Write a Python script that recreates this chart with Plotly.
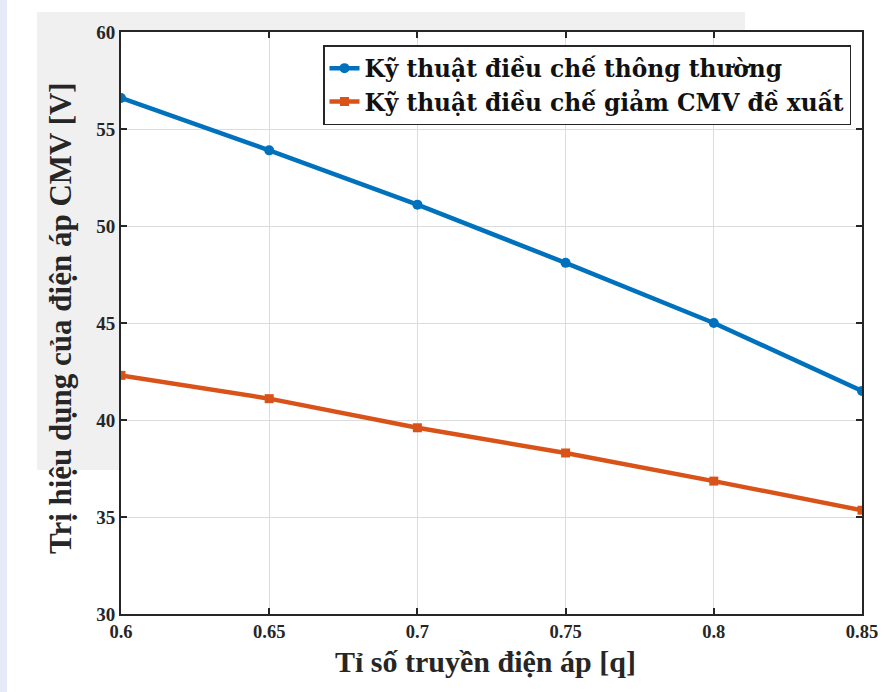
import plotly.graph_objects as go

q = [0.6, 0.65, 0.7, 0.75, 0.8, 0.85]
conventional = [56.6, 53.9, 51.1, 48.1, 45.0, 41.5]
proposed = [42.3, 41.1, 39.6, 38.3, 36.85, 35.35]
x_ticks = [0.6, 0.65, 0.7, 0.75, 0.8, 0.85]
x_ticktext = ["0.6", "0.65", "0.7", "0.75", "0.8", "0.85"]
y_ticks = [30, 35, 40, 45, 50, 55, 60]
name_conv = "Kỹ thuật điều chế thông thường"
name_prop = "Kỹ thuật điều chế giảm CMV đề xuất"
x_title = "Tỉ số truyền điện áp [q]"
y_title = "Trị hiệu dụng của điện áp CMV [V]"

FONT = "Liberation Serif"
LEG_FONT = "DejaVu Serif"
INK = "#262626"

fig = go.Figure()
fig.add_trace(go.Scatter(x=q, y=conventional, name=name_conv, mode="lines+markers",
                         line=dict(color="#0072BD", width=4.5),
                         marker=dict(symbol="circle", size=10, color="#0072BD")))
fig.add_trace(go.Scatter(x=q, y=proposed, name=name_prop, mode="lines+markers",
                         line=dict(color="#D95319", width=4.5),
                         marker=dict(symbol="square", size=9, color="#D95319")))

W, H = 885, 692
PL, PR, PT, PB = 121, 862, 32, 614  # plot area in pixels
L, R, T, B = PL, W - PR, PT, H - PB
pw, ph = W - L - R, H - T - B

def px(x):
    return (x - L) / pw

def py(y):
    return (H - B - y) / ph

shapes = [
    dict(type="rect", xref="paper", yref="paper", x0=px(0), x1=px(7), y0=py(H), y1=py(0),
         fillcolor="#e6eaf6", line=dict(width=0), layer="below"),
    dict(type="rect", xref="paper", yref="paper", x0=px(37), x1=px(745), y0=py(470), y1=py(12),
         fillcolor="#f0f0f0", line=dict(width=0), layer="below"),
    dict(type="rect", xref="paper", yref="paper", x0=0, x1=1, y0=0, y1=1,
         fillcolor="white", line=dict(width=0), layer="below"),
]

annotations = [
    dict(text=x_title, xref="paper", yref="paper", x=px(485), y=py(661),
         xanchor="center", yanchor="middle", showarrow=False,
         font=dict(family=FONT, size=30, weight="bold", color=INK)),
    dict(text=y_title, xref="paper", yref="paper", x=px(60), y=py(318),
         xanchor="center", yanchor="middle", showarrow=False, textangle=-90,
         font=dict(family=FONT, size=31, weight="bold", color=INK)),
]

fig.update_layout(
    width=W, height=H,
    margin=dict(l=L, r=R, t=T, b=B),
    paper_bgcolor="white", plot_bgcolor="white",
    shapes=shapes, annotations=annotations,
    font=dict(family=FONT, color=INK),
    showlegend=True,
    legend=dict(x=px(323), y=py(45), xanchor="left", yanchor="top",
                bgcolor="white", bordercolor=INK, borderwidth=1.5,
                font=dict(family=LEG_FONT, size=23.3, color="#111111", weight="bold"),
                tracegroupgap=0, itemwidth=30),
    xaxis=dict(range=[0.6, 0.85], tickvals=x_ticks, ticktext=x_ticktext,
               showgrid=True, gridcolor="#dcdcdc", gridwidth=1,
               showline=True, linecolor=INK, linewidth=2, mirror="ticks",
               ticks="inside", ticklen=6, tickcolor=INK, tickwidth=1.5,
               ticklabeloverflow="allow", automargin=False,
               tickfont=dict(family=FONT, size=18.5, weight="bold", color=INK),
               zeroline=False),
    yaxis=dict(range=[30, 60], tickvals=y_ticks,
               showgrid=True, gridcolor="#dcdcdc", gridwidth=1,
               showline=True, linecolor=INK, linewidth=2, mirror="ticks",
               ticks="inside", ticklen=6, tickcolor=INK, tickwidth=1.5,
               automargin=False,
               tickfont=dict(family=FONT, size=19, weight="bold", color=INK),
               zeroline=False),
)

fig.write_html("out.html",
               config={"displayModeBar": False},
               post_script="document.body.style.margin='0';document.body.style.overflow='hidden';")
